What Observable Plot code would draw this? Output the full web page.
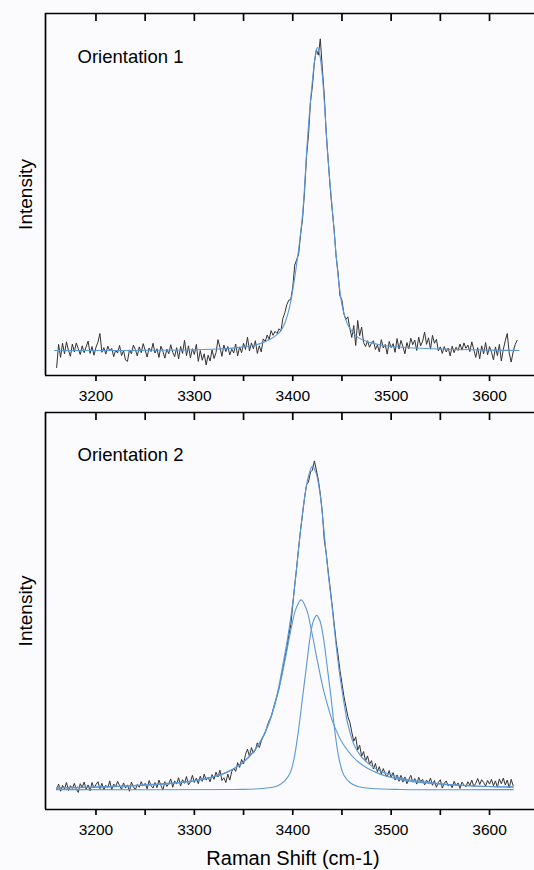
<!DOCTYPE html>
<html><head><meta charset="utf-8">
<script src="https://cdn.jsdelivr.net/npm/d3@7"></script>
<script src="https://cdn.jsdelivr.net/npm/@observablehq/plot@0.6"></script>
<style>
html,body{margin:0;padding:0;background:#fff;}
#chart svg{display:block;}
</style></head><body><div id="chart"></div>
<script>
// Raman shift grid (cm-1)
const shift = [
3160,3162,3164,3166,3168,3170,3172,3174,3176,3178,
3180,3182,3184,3186,3188,3190,3192,3194,3196,3198,
3200,3202,3204,3206,3208,3210,3212,3214,3216,3218,
3220,3222,3224,3226,3228,3230,3232,3234,3236,3238,
3240,3242,3244,3246,3248,3250,3252,3254,3256,3258,
3260,3262,3264,3266,3268,3270,3272,3274,3276,3278,
3280,3282,3284,3286,3288,3290,3292,3294,3296,3298,
3300,3302,3304,3306,3308,3310,3312,3314,3316,3318,
3320,3322,3324,3326,3328,3330,3332,3334,3336,3338,
3340,3342,3344,3346,3348,3350,3352,3354,3356,3358,
3360,3362,3364,3366,3368,3370,3372,3374,3376,3378,
3380,3382,3384,3386,3388,3390,3392,3394,3396,3398,
3400,3402,3404,3406,3408,3410,3412,3414,3416,3418,
3420,3422,3424,3426,3428,3430,3432,3434,3436,3438,
3440,3442,3444,3446,3448,3450,3452,3454,3456,3458,
3460,3462,3464,3466,3468,3470,3472,3474,3476,3478,
3480,3482,3484,3486,3488,3490,3492,3494,3496,3498,
3500,3502,3504,3506,3508,3510,3512,3514,3516,3518,
3520,3522,3524,3526,3528,3530,3532,3534,3536,3538,
3540,3542,3544,3546,3548,3550,3552,3554,3556,3558,
3560,3562,3564,3566,3568,3570,3572,3574,3576,3578,
3580,3582,3584,3586,3588,3590,3592,3594,3596,3598,
3600,3602,3604,3606,3608,3610,3612,3614,3616,3618,
3620,3622,3624,3626,3628];

// Orientation 1 measured intensity (arb. units)
const intensity1 = [
2.2,8.6,5.0,8.9,6.0,9.3,7.0,5.3,8.7,6.5,
9.0,7.4,5.8,8.2,6.3,7.9,9.5,6.1,8.0,5.6,
7.8,9.2,11.6,6.4,7.7,5.9,8.1,6.8,7.5,5.2,
7.0,6.2,8.3,5.5,6.9,4.3,3.9,7.1,6.0,8.4,
7.2,5.4,7.9,6.3,8.8,7.0,5.1,7.6,6.6,8.9,
6.2,7.4,5.0,8.1,6.7,4.8,7.3,6.0,8.5,6.4,
5.2,7.7,4.6,8.0,6.1,9.7,5.5,8.2,4.9,7.4,
5.8,8.6,3.9,6.9,4.2,6.0,2.9,5.6,4.0,7.1,
4.7,6.3,9.9,7.8,5.3,8.4,6.6,8.0,5.7,7.3,
6.2,8.7,5.4,7.9,6.3,8.9,7.2,10.6,6.8,9.0,
7.4,9.6,6.1,8.2,6.5,10.1,9.4,11.2,10.0,12.4,
11.1,12.2,11.6,12.9,12.3,15.8,17.4,19.6,20.8,21.0,
24.4,30.5,32.0,33.6,39.0,43.5,50.8,60.5,66.5,75.5,
80.0,86.5,90.0,88.5,93.0,85.0,77.5,67.0,59.5,52.0,
46.0,40.5,33.0,28.5,22.0,20.8,17.0,15.5,16.2,13.0,
10.5,13.8,8.3,15.2,11.0,13.4,9.1,8.0,9.6,7.8,
8.9,9.6,7.2,8.4,6.5,9.9,7.6,8.6,5.9,9.4,
7.7,8.8,6.4,10.2,7.3,9.7,8.0,6.0,9.1,7.4,
10.3,8.5,9.8,6.9,10.6,8.2,9.5,12.0,8.6,10.4,
7.3,11.1,8.9,10.0,6.8,7.9,6.1,8.0,6.5,7.6,
5.4,8.1,6.3,7.8,6.9,8.7,7.0,9.0,7.5,8.4,
6.6,9.3,7.1,5.0,7.7,4.6,8.2,6.0,9.1,5.7,
8.0,6.4,4.3,7.9,5.5,8.6,4.0,7.2,9.6,11.6,
6.2,3.7,6.5,8.5,9.7];

// Orientation 2 measured intensity (arb. units)
const intensity2 = [
5.0,6.4,4.6,6.1,5.2,6.8,4.8,6.0,5.3,6.6,
5.1,4.3,6.5,5.6,6.9,5.0,6.2,4.7,6.8,5.4,
6.3,7.0,5.2,6.6,4.9,6.1,5.5,7.2,5.0,6.4,
5.8,7.1,6.0,5.1,6.7,5.4,6.2,4.6,6.9,5.7,
5.0,6.3,5.6,7.0,5.9,6.6,5.2,7.3,6.0,5.4,
6.8,5.5,7.4,6.1,4.9,7.0,5.8,6.5,7.7,5.6,
7.2,6.4,8.0,5.9,7.5,6.6,8.3,6.2,7.0,8.6,
6.8,7.9,6.5,8.4,7.1,8.9,7.4,8.1,7.0,8.8,
7.6,9.4,8.2,9.9,7.3,8.0,6.8,8.9,7.4,9.6,
10.4,9.6,11.8,10.6,12.6,11.5,13.9,15.2,13.4,15.6,
14.2,15.0,16.8,15.6,17.2,18.4,19.3,21.0,22.4,23.3,
25.2,27.0,28.6,30.5,33.0,35.4,38.2,40.6,43.9,46.5,
51.5,56.5,61.0,66.0,70.5,74.5,78.5,81.8,82.5,85.0,
85.5,87.8,85.5,83.0,79.5,75.0,68.0,64.5,60.0,55.8,
51.5,47.0,42.5,39.0,35.0,31.8,28.5,26.0,23.4,22.0,
19.5,17.2,18.3,15.0,16.2,13.4,14.6,12.2,13.5,11.4,
12.3,10.2,11.6,9.5,10.8,8.9,10.3,9.0,8.2,9.8,
8.0,9.3,7.4,8.7,7.1,8.6,6.9,8.2,6.5,7.6,
8.6,6.9,7.8,6.4,8.1,7.0,7.6,6.2,7.4,6.7,
7.9,6.1,7.3,5.6,6.8,7.5,5.4,6.6,7.2,5.9,
6.4,5.5,7.1,6.0,6.7,5.3,6.9,6.2,5.7,7.0,
6.1,7.4,5.8,6.6,7.8,6.3,7.5,6.8,5.9,7.3,
6.4,7.6,6.0,7.2,5.6,7.7,6.5,7.9,6.2,7.4,
5.4,7.6,6.0,null,null];

// Orientation 1 fitted peak
const fit1Shift = [3158,3200,3250,3300,3330,3350,3367,3377,3384,3388,3392,3395,3398,3401,3404,3406.5,3410,3412.2,3414.2,3417,3420,3422.5,3425,3427.5,3430,3432.5,3435.2,3437.9,3440.9,3443.7,3447,3450.5,3455.5,3460,3466,3474,3483,3495,3510,3540,3580,3630];
const fit1Int   = [6.9,6.9,6.95,7.1,7.4,7.9,8.8,10.0,11.3,12.4,14.5,17.0,20.5,25.3,30.8,36.0,44.5,53,62.2,72.5,81.5,87.5,90.6,88.5,83,74,62.2,53,43.7,34.5,25.3,18.9,14.3,12.3,10.6,9.5,8.8,8.2,7.8,7.4,7.1,6.9];

// Orientation 2 fitted envelope and two components
const fit2Shift = [3160,3200,3250,3300,3330,3340,3350,3360,3370,3380,3385,3390,3395,3400,3404,3408,3412,3416,3420,3424,3428,3432,3436,3440,3444,3448,3452,3456,3462,3469,3480,3490,3500,3510,3520,3540,3560,3580,3600,3624];
const fit2Int   = [5.5,5.7,6.2,7.3,9.0,10.3,12.0,14.5,18.5,25.0,30.0,36.5,43.5,52.0,61.0,70.5,78.5,84.0,86.5,84.5,79.0,69.5,59.5,51.0,41.5,33.5,27.0,21.5,16.5,13.5,11.0,9.6,8.8,8.0,7.4,6.8,6.3,6.0,5.8,5.7];
const comp1Shift = [3160,3200,3250,3300,3330,3350,3365,3375,3385,3392,3398,3403,3408.5,3414,3419,3425,3432,3442,3452,3467,3487,3517,3567,3624];
const comp1Int   = [5.4,5.6,6.1,7.2,9.1,11.9,16.2,21.2,29.4,37.5,45.1,50.4,52.8,50.4,45.1,37.5,29.4,21.2,16.2,11.9,9.1,7.2,6.1,5.6];
const comp2Shift = [3160,3340,3370,3385,3392,3397,3401,3406,3410,3414,3418,3421,3424.3,3427.5,3431,3435,3439,3443,3447,3452,3458,3466,3480,3510,3624];
const comp2Int   = [5.0,5.05,5.3,6.0,7.3,9.0,12.4,20.3,28.3,36.3,44,47.5,48.9,47.6,43.5,36,28,19.3,12.8,8.6,6.8,5.8,5.3,5.05,5.0];

const majorTicks = [3200,3300,3400,3500,3600];
const minorTicks = [3250,3350,3450,3550];
const panelLabels = ["Orientation 1","Orientation 2"];
const yLabel = "Intensity";
const xLabel = "Raman Shift (cm-1)";
const xDomain = [3148.7, 3645.7];
const yDomain = [0, 100];

const rows = (xs, ys) => xs.map((x, i) => ({x, y: ys[i]}));

const FONT = "'Liberation Sans', Arial, Helvetica, sans-serif";
const DATA_COLOR = "#333333";
const FIT_COLOR = "#5b98d8";
const blank = () => "";

function panel({data, fits, label, height, marginTop, marginBottom, labelDy, showXLabel}) {
  return Plot.plot({
    width: 534, height, marginTop, marginBottom, marginLeft: 45, marginRight: 0,
    style: {fontFamily: FONT, fontSize: "15.5px", color: "#000", background: "#fbfbfd", overflow: "visible"},
    x: {domain: xDomain},
    y: {domain: yDomain, axis: null},
    marks: [
      Plot.line(data, {x: "x", y: "y", stroke: DATA_COLOR, strokeWidth: 1}),
      ...fits.map(f => Plot.line(f, {x: "x", y: "y", stroke: FIT_COLOR, strokeWidth: 1.1, curve: "catmull-rom"})),
      Plot.ruleY([yDomain[0]], {stroke: "#000", strokeWidth: 1.7}),
      Plot.ruleY([yDomain[1]], {stroke: "#000", strokeWidth: 1.7}),
      Plot.ruleX([xDomain[0]], {stroke: "#000", strokeWidth: 1.7}),
      Plot.axisX({ticks: majorTicks, anchor: "bottom", tickSize: 6, tickPadding: 8, strokeWidth: 1.7, label: null, fontSize: 15.5, tickFormat: d => String(d)}),
      Plot.axisX({ticks: minorTicks, anchor: "bottom", tickSize: 6, strokeWidth: 1.7, tickFormat: blank, label: null}),
      Plot.axisX({ticks: [...majorTicks, ...minorTicks], anchor: "top", tickSize: -7, strokeWidth: 1.7, tickFormat: blank, label: null}),
      Plot.text([label], {text: d => d, frameAnchor: "top-left", dx: 32, dy: labelDy, textAnchor: "start", lineAnchor: "top", fontSize: 18.5, fill: "#000"}),
      Plot.text([yLabel], {text: d => d, frameAnchor: "left", dx: -20, rotate: -90, fontSize: 19, textAnchor: "middle", lineAnchor: "middle", fill: "#000"}),
      showXLabel ? Plot.text([xLabel], {text: d => d, frameAnchor: "bottom", dx: 3, dy: 49, fontSize: 20, textAnchor: "middle", lineAnchor: "middle", fill: "#000"}) : null
    ]
  });
}

const chart = document.getElementById("chart");
chart.append(panel({
  data: rows(shift, intensity1),
  fits: [rows(fit1Shift, fit1Int)],
  label: panelLabels[0], height: 410, marginTop: 13, marginBottom: 35, labelDy: 36, showXLabel: false
}));
chart.append(panel({
  data: rows(shift, intensity2),
  fits: [rows(comp1Shift, comp1Int), rows(comp2Shift, comp2Int), rows(fit2Shift, fit2Int)],
  label: panelLabels[1], height: 460, marginTop: 2, marginBottom: 61, labelDy: 35, showXLabel: true
}));
</script>
</body></html>
